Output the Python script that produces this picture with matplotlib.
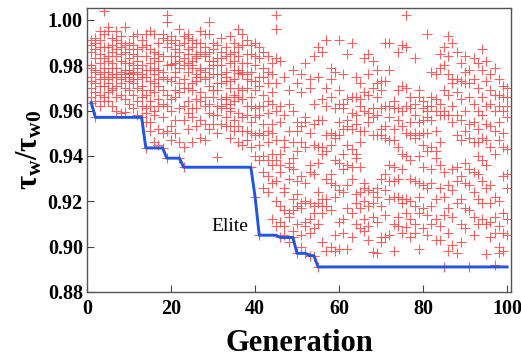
import numpy as np
import matplotlib
matplotlib.use('Agg')
import matplotlib.pyplot as plt

# population fitness per generation (tau_w / tau_w0)
pop_01_20 = [
	[0.9635, 0.966, 0.973, 0.975, 0.979, 0.986, 0.989, 0.991, 0.980, 0.970],
	[0.957, 0.964, 0.968, 0.977, 0.978, 0.983, 0.990, 0.992, 0.972, 0.987],
	[0.962, 0.967, 0.971, 0.974, 0.981, 0.985, 0.988, 0.991, 0.976, 0.995],
	[1.004, 0.994, 0.988, 0.979, 0.977, 0.971, 0.966, 0.964, 0.983, 0.975],
	[0.997, 0.995, 0.984, 0.982, 0.977, 0.974, 0.968, 0.964, 0.988, 0.972],
	[0.989, 0.986, 0.981, 0.976, 0.975, 0.970, 0.969, 0.962, 0.992, 0.979],
	[0.995, 0.991, 0.987, 0.979, 0.976, 0.975, 0.966, 0.960, 0.984, 0.971],
	[0.993, 0.988, 0.982, 0.977, 0.974, 0.972, 0.967, 0.959, 0.985, 0.990],
	[0.997, 0.989, 0.986, 0.981, 0.976, 0.975, 0.970, 0.9595, 0.965, 0.978],
	[0.990, 0.987, 0.983, 0.978, 0.9765, 0.975, 0.969, 0.963, 0.981, 0.973],
	[0.989, 0.985, 0.980, 0.977, 0.976, 0.972, 0.967, 0.961, 0.993, 0.974],
	[0.994, 0.984, 0.982, 0.979, 0.977, 0.974, 0.970, 0.964, 0.958, 0.987],
	[0.991, 0.988, 0.980, 0.976, 0.975, 0.971, 0.966, 0.962, 0.957, 0.969],
	[0.9435, 0.955, 0.959, 0.961, 0.967, 0.975, 0.978, 0.984, 0.989, 0.994],
	[0.995, 0.987, 0.981, 0.978, 0.973, 0.964, 0.962, 0.955, 0.951, 0.969],
	[0.994, 0.986, 0.983, 0.976, 0.972, 0.968, 0.960, 0.958, 0.946, 0.979],
	[0.990, 0.985, 0.982, 0.974, 0.971, 0.965, 0.962, 0.952, 0.945, 0.978],
	[0.994, 0.992, 0.984, 0.977, 0.975, 0.969, 0.963, 0.957, 0.950, 0.9435],
	[1.002, 0.999, 0.991, 0.988, 0.980, 0.974, 0.967, 0.962, 0.951, 0.939],
	[0.993, 0.990, 0.984, 0.980, 0.9805, 0.973, 0.965, 0.960, 0.953, 0.947],
]
pop_21_40 = [
	[0.991, 0.987, 0.984, 0.981, 0.975, 0.969, 0.966, 0.956, 0.950, 0.977],
	[0.996, 0.989, 0.986, 0.982, 0.979, 0.972, 0.968, 0.961, 0.946, 0.939],
	[0.993, 0.990, 0.983, 0.980, 0.974, 0.970, 0.962, 0.956, 0.944, 0.935],
	[0.994, 0.992, 0.987, 0.981, 0.977, 0.970, 0.964, 0.959, 0.952, 0.985],
	[0.991, 0.988, 0.982, 0.979, 0.972, 0.969, 0.961, 0.957, 0.946, 0.980],
	[0.990, 0.985, 0.983, 0.976, 0.973, 0.965, 0.961, 0.953, 0.984, 0.975],
	[0.995, 0.990, 0.986, 0.979, 0.975, 0.968, 0.964, 0.956, 0.948, 0.978],
	[0.994, 0.988, 0.984, 0.977, 0.974, 0.966, 0.962, 0.954, 0.947, 0.985],
	[0.999, 0.994, 0.986, 0.982, 0.975, 0.971, 0.963, 0.959, 0.952, 0.979],
	[0.990, 0.987, 0.980, 0.976, 0.969, 0.966, 0.958, 0.954, 0.969, 0.982],
	[0.989, 0.983, 0.980, 0.972, 0.969, 0.962, 0.958, 0.950, 0.9395, 0.976],
	[0.992, 0.986, 0.983, 0.976, 0.972, 0.965, 0.961, 0.954, 0.962, 0.980],
	[0.988, 0.984, 0.977, 0.973, 0.966, 0.963, 0.957, 0.953, 0.965, 0.975],
	[0.993, 0.985, 0.981, 0.973, 0.970, 0.963, 0.960, 0.953, 0.948, 0.961],
	[0.990, 0.986, 0.978, 0.974, 0.967, 0.964, 0.956, 0.951, 0.966, 0.982],
	[0.996, 0.988, 0.984, 0.978, 0.9765, 0.970, 0.966, 0.959, 0.953, 0.946],
	[0.994, 0.989, 0.981, 0.977, 0.976, 0.969, 0.965, 0.957, 0.951, 0.945],
	[0.991, 0.985, 0.981, 0.974, 0.970, 0.962, 0.958, 0.951, 0.947, 0.976],
	[0.989, 0.985, 0.977, 0.973, 0.966, 0.962, 0.955, 0.950, 0.944, 0.935],
	[0.990, 0.984, 0.980, 0.973, 0.969, 0.961, 0.957, 0.949, 0.940, 0.922],
]
pop_41_60 = [
	[0.988, 0.983, 0.975, 0.971, 0.962, 0.958, 0.950, 0.945, 0.938, 0.905],
	[0.986, 0.979, 0.975, 0.967, 0.962, 0.954, 0.949, 0.940, 0.933, 0.926],
	[0.984, 0.977, 0.972, 0.964, 0.959, 0.951, 0.946, 0.938, 0.931, 0.924],
	[0.981, 0.976, 0.968, 0.963, 0.954, 0.950, 0.941, 0.936, 0.928, 0.912],
	[1.002, 0.996, 0.983, 0.972, 0.960, 0.947, 0.938, 0.929, 0.920, 0.909],
	[0.982, 0.962, 0.955, 0.941, 0.936, 0.933, 0.918, 0.911, 0.904],
	[0.975, 0.958, 0.947, 0.944, 0.926, 0.924, 0.916, 0.909, 0.905],
	[0.969, 0.963, 0.951, 0.937, 0.935, 0.930, 0.915, 0.913, 0.902],
	[0.978, 0.960, 0.946, 0.939, 0.934, 0.921, 0.916, 0.907, 0.904],
	[0.972, 0.955, 0.951, 0.942, 0.929, 0.923, 0.918, 0.910, 0.897],
	[0.976, 0.968, 0.953, 0.946, 0.931, 0.919, 0.917, 0.905, 0.900],
	[0.981, 0.957, 0.955, 0.944, 0.928, 0.920, 0.911, 0.909, 0.897],
	[0.974, 0.970, 0.950, 0.936, 0.933, 0.919, 0.912, 0.906, 0.896],
	[0.984, 0.963, 0.954, 0.945, 0.932, 0.918, 0.915, 0.908, 0.896],
	[0.988, 0.975, 0.956, 0.944, 0.937, 0.924, 0.919, 0.910, 0.891],
	[0.986, 0.965, 0.956, 0.944, 0.941, 0.921, 0.918, 0.915, 0.902],
	[0.991, 0.970, 0.962, 0.949, 0.942, 0.930, 0.921, 0.918, 0.898],
	[0.979, 0.974, 0.966, 0.950, 0.945, 0.932, 0.928, 0.916, 0.900],
	[0.977, 0.961, 0.949, 0.948, 0.938, 0.927, 0.922, 0.905, 0.898],
	[0.991, 0.969, 0.963, 0.955, 0.949, 0.937, 0.925, 0.911, 0.899],
]
pop_61_80 = [
	[0.976, 0.963, 0.961, 0.952, 0.941, 0.934, 0.924, 0.912, 0.906],
	[0.985, 0.965, 0.956, 0.953, 0.945, 0.936, 0.927, 0.917, 0.899],
	[0.990, 0.966, 0.959, 0.952, 0.943, 0.935, 0.930, 0.915, 0.904],
	[0.975, 0.966, 0.958, 0.954, 0.941, 0.939, 0.923, 0.919, 0.910],
	[0.972, 0.965, 0.962, 0.951, 0.946, 0.935, 0.924, 0.917, 0.908],
	[0.983, 0.968, 0.960, 0.951, 0.928, 0.926, 0.920, 0.912, 0.907],
	[0.985, 0.976, 0.967, 0.959, 0.955, 0.925, 0.918, 0.909, 0.903],
	[0.982, 0.970, 0.961, 0.957, 0.949, 0.924, 0.919, 0.913, 0.8975],
	[0.978, 0.972, 0.966, 0.958, 0.949, 0.926, 0.922, 0.911, 0.897],
	[0.973, 0.969, 0.961, 0.952, 0.949, 0.930, 0.918, 0.904, 0.902],
	[0.990, 0.973, 0.962, 0.953, 0.948, 0.932, 0.925, 0.914, 0.904],
	[0.990, 0.978, 0.962, 0.957, 0.947, 0.936, 0.929, 0.921, 0.905],
	[0.964, 0.961, 0.952, 0.947, 0.935, 0.929, 0.922, 0.910, 0.898],
	[0.986, 0.969, 0.961, 0.956, 0.944, 0.930, 0.922, 0.913, 0.909],
	[0.989, 0.971, 0.960, 0.953, 0.941, 0.934, 0.921, 0.919, 0.906],
	[1.002, 0.988, 0.970, 0.962, 0.950, 0.940, 0.921, 0.915, 0.9085],
	[0.966, 0.961, 0.955, 0.949, 0.938, 0.930, 0.920, 0.912, 0.904],
	[0.983, 0.963, 0.958, 0.950, 0.948, 0.929, 0.918, 0.910, 0.906],
	[0.969, 0.966, 0.955, 0.949, 0.940, 0.928, 0.922, 0.915, 0.899],
	[0.964, 0.961, 0.956, 0.950, 0.945, 0.935, 0.927, 0.917, 0.908],
]
pop_81_100 = [
	[0.994, 0.962, 0.960, 0.957, 0.950, 0.942, 0.926, 0.914, 0.905],
	[0.977, 0.966, 0.962, 0.956, 0.944, 0.934, 0.928, 0.918, 0.910],
	[0.976, 0.965, 0.960, 0.951, 0.942, 0.939, 0.921, 0.912, 0.903],
	[0.985, 0.979, 0.963, 0.958, 0.946, 0.936, 0.926, 0.909, 0.903],
	[0.988, 0.980, 0.969, 0.960, 0.958, 0.933, 0.922, 0.914, 0.891],
	[0.993, 0.984, 0.976, 0.967, 0.958, 0.927, 0.917, 0.906, 0.898],
	[0.990, 0.974, 0.972, 0.962, 0.955, 0.934, 0.925, 0.913, 0.9005],
	[0.986, 0.974, 0.968, 0.958, 0.949, 0.935, 0.929, 0.919, 0.897],
	[0.981, 0.973, 0.965, 0.956, 0.947, 0.931, 0.921, 0.910, 0.902],
	[0.984, 0.977, 0.972, 0.960, 0.951, 0.937, 0.928, 0.917, 0.908],
	[0.978, 0.972, 0.966, 0.954, 0.948, 0.934, 0.927, 0.916, 0.891],
	[0.983, 0.974, 0.963, 0.955, 0.946, 0.933, 0.924, 0.913, 0.905],
	[0.981, 0.970, 0.960, 0.952, 0.946, 0.940, 0.932, 0.921, 0.910],
	[0.987, 0.978, 0.966, 0.958, 0.948, 0.938, 0.929, 0.919, 0.912],
	[0.982, 0.973, 0.962, 0.954, 0.947, 0.936, 0.926, 0.910, 0.8965],
	[0.976, 0.969, 0.963, 0.953, 0.944, 0.927, 0.919, 0.911, 0.904],
	[0.979, 0.967, 0.960, 0.951, 0.941, 0.922, 0.913, 0.906, 0.892],
	[0.974, 0.967, 0.962, 0.955, 0.947, 0.920, 0.909, 0.900, 0.897],
	[0.971, 0.966, 0.960, 0.950, 0.944, 0.931, 0.915, 0.906, 0.898],
	[0.970, 0.966, 0.962, 0.957, 0.943, 0.932, 0.926, 0.912, 0.905],
]

# best individual (elite), corners of the step curve
elite_gen = [1, 2, 13, 14, 18, 19, 22, 23, 39, 40, 41, 45, 46, 49, 50, 52, 53, 54, 55, 100]
elite_tau = [0.9635, 0.957, 0.957, 0.9435, 0.9435, 0.939, 0.939, 0.935, 0.935, 0.922,
			 0.905, 0.905, 0.904, 0.904, 0.897, 0.897, 0.896, 0.896, 0.891, 0.891]

x_ticks = [0, 20, 40, 60, 80, 100]
y_ticks = [0.88, 0.90, 0.92, 0.94, 0.96, 0.98, 1.00]

population = pop_01_20 + pop_21_40 + pop_41_60 + pop_61_80 + pop_81_100
gen_pts = []
tau_pts = []
for g, vals in enumerate(population, start=1):
	gen_pts += [g] * len(vals)
	tau_pts += vals

plt.rcParams['font.family'] = ['Liberation Serif', 'DejaVu Serif']
plt.rcParams['mathtext.fontset'] = 'custom'
plt.rcParams['mathtext.rm'] = 'Liberation Serif:bold'
plt.rcParams['mathtext.it'] = 'Liberation Serif:bold'
plt.rcParams['mathtext.bf'] = 'Liberation Serif:bold'

fig = plt.figure(figsize=(5.21, 3.59), dpi=100)
ax = fig.add_axes([0.167, 0.187, 0.814, 0.791])

ax.plot(gen_pts, tau_pts, linestyle='none', marker='+', markersize=6.5,
		markeredgewidth=0.8, color='#f55050', alpha=0.9, zorder=2)
ax.plot(elite_gen, elite_tau, color='#2255e0', linewidth=2.1, zorder=3)
ax.text(38.5, 0.909, 'Elite', fontsize=14, ha='right', va='center')

ax.set_xlim(0, 100.95)
ax.set_ylim(0.88, 1.0053)
ax.set_xticks(x_ticks)
ax.set_yticks(y_ticks)
ax.set_yticklabels(['%.2f' % v for v in y_ticks])
ax.tick_params(direction='in', length=5, width=0.8, color='#444444', labelsize=14.5)
ax.tick_params(axis='x', pad=5)
ax.tick_params(axis='y', pad=3)
for lbl in ax.get_xticklabels() + ax.get_yticklabels():
	lbl.set_fontweight('bold')
for sp in ax.spines.values():
	sp.set_color('#555555')
	sp.set_linewidth(1.0)

ax.set_xlabel('Generation', fontsize=22, fontweight='bold', labelpad=7)
ax.set_ylabel(r'$\tau_w/\tau_{w0}$', fontsize=22, labelpad=2)

fig.savefig('out.png', dpi=100)
